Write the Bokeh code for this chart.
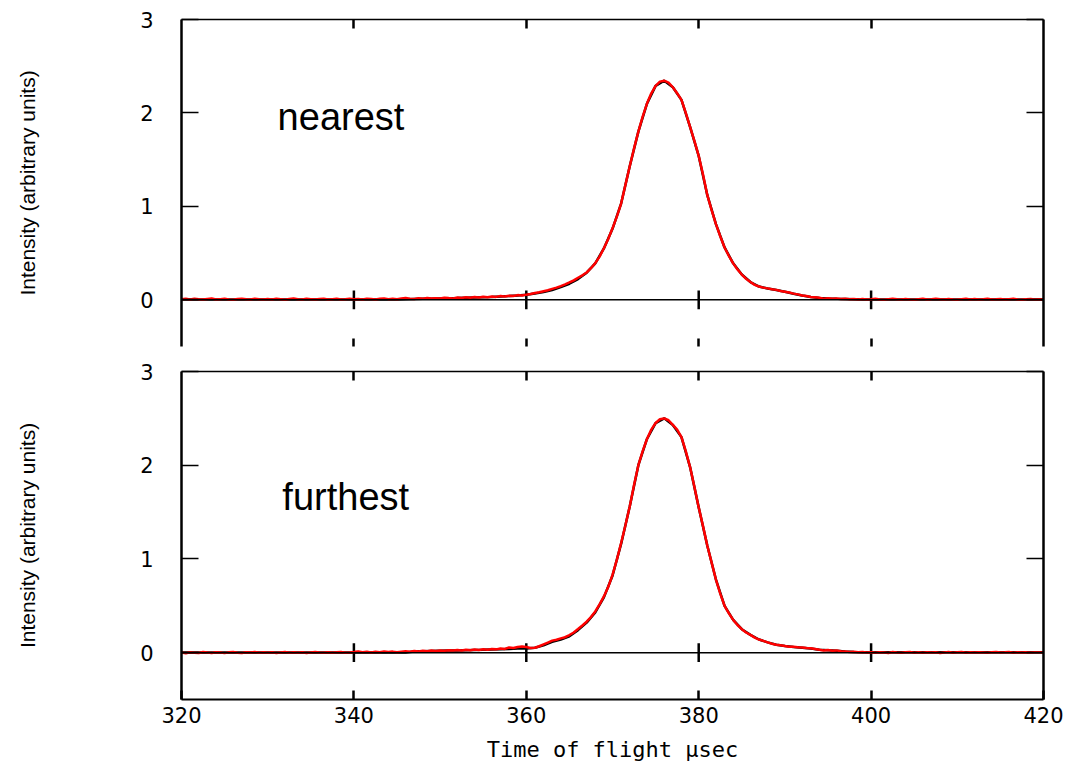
import numpy as np
from bokeh.plotting import figure
from bokeh.layouts import column
from bokeh.models import LinearAxis, FixedTicker, Span, Label, Range1d
from bokeh.embed import file_html
from bokeh.resources import INLINE

# ---------------- data ----------------
t_start = 320.0
t_data_step = 0.5   # sampling of measured spectra (usec)
t_fit_step = 1.0    # sampling of fitted curves (usec)

x_ticks = [320, 340, 360, 380, 400, 420]
inner_x_ticks = [340, 360, 380, 400]
y_ticks = [0, 1, 2, 3]

panel_labels = ["nearest", "furthest"]

# fitted curve, nearest detector (1 usec steps, 320..420)
fit_nearest = [0.002] * 26 + [
    0.005, 0.008, 0.010, 0.012, 0.015, 0.017, 0.019, 0.022, 0.025, 0.028,
    0.031, 0.035, 0.040, 0.046, 0.053, 0.068, 0.082, 0.105, 0.135, 0.172,
    0.222, 0.290, 0.390, 0.550, 0.760, 1.030, 1.430, 1.800, 2.100, 2.290,
    2.345, 2.275, 2.140, 1.850, 1.540, 1.120, 0.810, 0.560, 0.390, 0.270,
    0.190, 0.142, 0.120, 0.104, 0.085, 0.065, 0.045, 0.030, 0.020, 0.014,
    0.010, 0.008, 0.006, 0.004] + [0.003] * 21

# measured, nearest detector (0.5 usec steps, 320..420)
data_nearest = [
    0.005, 0.010, 0.004, 0.012, 0.006, 0.002, 0.009, 0.013, 0.003, 0.007,
    0.011, 0.004, 0.000, 0.008, 0.012, 0.005, 0.002, 0.010, 0.006, 0.003,
    0.008, 0.004, 0.011, 0.006, 0.001, 0.009, 0.014, 0.005, 0.003, 0.010,
    0.006, 0.002, 0.008, 0.012, 0.004, 0.007, 0.010, 0.003, 0.006, 0.011,
    0.005, 0.009, 0.004, 0.012, 0.008, 0.003, 0.010, 0.015, 0.007, 0.011,
    0.006, 0.013, 0.018, 0.010, 0.008, 0.016, 0.012, 0.020, 0.014, 0.017,
    0.013, 0.022, 0.018, 0.015, 0.024, 0.020, 0.027, 0.022, 0.030, 0.025,
    0.033, 0.028, 0.036, 0.031, 0.040, 0.035, 0.044, 0.040, 0.050, 0.046,
    0.055, 0.062, 0.072, 0.080, 0.092, 0.102, 0.117, 0.130, 0.147, 0.165,
    0.186, 0.208, 0.236, 0.262, 0.292, 0.338, 0.392, 0.462, 0.552, 0.650,
    0.765, 0.890, 1.030, 1.230, 1.430, 1.620, 1.800, 1.960, 2.100, 2.210,
    2.290, 2.335, 2.345, 2.325, 2.275, 2.210, 2.140, 2.000, 1.850, 1.700,
    1.540, 1.340, 1.120, 0.960, 0.810, 0.680, 0.560, 0.470, 0.390, 0.325,
    0.270, 0.225, 0.190, 0.160, 0.142, 0.130, 0.122, 0.112, 0.106, 0.094,
    0.086, 0.078, 0.066, 0.058, 0.046, 0.040, 0.030, 0.026, 0.021, 0.012,
    0.016, 0.010, 0.013, 0.008, 0.011, 0.006, 0.009, 0.004, 0.008, 0.003,
    0.006, 0.010, 0.004, 0.001, 0.007, 0.011, 0.005, 0.002, 0.009, 0.004,
    0.000, 0.006, 0.010, 0.003, 0.007, 0.012, 0.005, 0.002, 0.008, 0.004,
    0.001, 0.007, 0.011, 0.004, 0.009, 0.003, 0.006, 0.010, 0.002, 0.005,
    0.009, 0.003, 0.007, 0.011, 0.004, 0.001, 0.006, 0.009, 0.003, 0.005,
    0.004]

# fitted curve, furthest detector (1 usec steps, 320..420)
fit_furthest = [0.002] * 27 + [
    0.012, 0.015, 0.018, 0.020, 0.022, 0.024, 0.026, 0.028, 0.030, 0.033,
    0.036, 0.040, 0.043, 0.045, 0.052, 0.078, 0.115, 0.140, 0.175, 0.240,
    0.320, 0.430, 0.590, 0.820, 1.160, 1.560, 2.000, 2.280, 2.450, 2.500,
    2.430, 2.300, 1.980, 1.550, 1.140, 0.780, 0.500, 0.350, 0.250, 0.190,
    0.140, 0.110, 0.085, 0.070, 0.060, 0.052, 0.043, 0.032, 0.025, 0.019,
    0.013, 0.008, 0.005] + [0.003] * 21

# measured, furthest detector (0.5 usec steps, 320..420)
data_furthest = [
    0.002, -0.006, 0.004, 0.000, -0.004, 0.006, 0.001, -0.003, 0.005, 0.002,
    -0.005, 0.003, 0.007, 0.000, -0.004, 0.004, 0.001, 0.006, -0.002, 0.003,
    0.000, 0.005, -0.003, 0.002, 0.006, -0.002, 0.003, 0.000, 0.005, -0.004,
    0.002, 0.006, 0.001, -0.002, 0.004, 0.000, 0.003, 0.007, -0.001, 0.002,
    0.006, 0.012, 0.004, 0.009, 0.002, 0.010, 0.005, 0.013, 0.008, 0.011,
    0.004, 0.009, 0.014, 0.010, 0.018, 0.013, 0.020, 0.016, 0.022, 0.018,
    0.024, 0.020, 0.026, 0.022, 0.028, 0.024, 0.030, 0.026, 0.033, 0.029,
    0.035, 0.031, 0.038, 0.035, 0.044, 0.040, 0.055, 0.050, 0.060, 0.065,
    0.060, 0.050, 0.052, 0.068, 0.088, 0.108, 0.128, 0.138, 0.152, 0.165,
    0.188, 0.215, 0.252, 0.290, 0.330, 0.380, 0.440, 0.515, 0.600, 0.700,
    0.830, 0.990, 1.170, 1.360, 1.560, 1.790, 2.000, 2.150, 2.280, 2.380,
    2.450, 2.490, 2.500, 2.480, 2.430, 2.380, 2.300, 2.150, 1.980, 1.770,
    1.550, 1.350, 1.140, 0.960, 0.780, 0.630, 0.500, 0.420, 0.350, 0.295,
    0.250, 0.215, 0.190, 0.160, 0.140, 0.125, 0.110, 0.095, 0.085, 0.078,
    0.072, 0.064, 0.062, 0.058, 0.055, 0.050, 0.046, 0.038, 0.030, 0.022,
    0.028, 0.020, 0.024, 0.015, 0.012, 0.006, 0.009, 0.003, 0.007, 0.002,
    0.004, -0.002, 0.005, 0.001, -0.003, 0.006, 0.002, -0.001, 0.004, 0.007,
    0.000, 0.003, -0.002, 0.005, 0.001, 0.004, -0.003, 0.002, 0.006, 0.000,
    0.003, 0.006, -0.001, 0.004, 0.001, 0.005, 0.002, -0.002, 0.004, 0.007,
    0.001, 0.003, 0.006, 0.000, 0.004, 0.002, 0.005, 0.001, 0.003, 0.004,
    0.002]

t_data = t_start + t_data_step * np.arange(len(data_nearest))
t_fit = t_start + t_fit_step * np.arange(len(fit_nearest))

TICK_FONT = "DejaVu Sans"


def hidden_labels(ticks):
    return {t: "" for t in ticks}


def make_panel(fit, data, label, label_pos, frame_w, frame_h, borders, bottom_labels):
    left, right, top, bottom = borders
    p = figure(frame_width=frame_w, frame_height=frame_h,
               x_range=Range1d(320, 420), y_range=Range1d(-0.5, 3),
               x_axis_location=None, y_axis_location=None,
               toolbar_location=None, output_backend="svg",
               min_border_left=left, min_border_right=right,
               min_border_top=top, min_border_bottom=bottom)
    p.grid.visible = False
    p.outline_line_color = None
    p.background_fill_color = "white"
    p.border_fill_color = "white"

    # left axis
    ya = LinearAxis(ticker=FixedTicker(ticks=y_ticks, minor_ticks=[]),
                    axis_label="Intensity (arbitrary units)")
    ya.major_tick_in = 17
    ya.major_tick_out = 0
    ya.major_tick_line_width = 1.5
    ya.axis_line_width = 2.5
    ya.major_label_text_font = TICK_FONT
    ya.major_label_text_font_size = "21px"
    ya.major_label_text_color = "black"
    ya.major_label_standoff = 28
    ya.axis_label_text_font = "Liberation Sans"
    ya.axis_label_text_font_style = "normal"
    ya.axis_label_text_font_size = "21px"
    ya.axis_label_text_color = "black"
    ya.axis_label_standoff = 98
    p.add_layout(ya, "left")

    # right axis
    yr = LinearAxis(ticker=FixedTicker(ticks=y_ticks, minor_ticks=[]))
    yr.major_tick_in = 17
    yr.major_tick_out = 0
    yr.major_tick_line_width = 1.5
    yr.axis_line_width = 2.5
    yr.major_label_overrides = hidden_labels(y_ticks)
    yr.major_label_text_font_size = "1px"
    yr.major_label_standoff = 0
    p.add_layout(yr, "right")

    # top axis
    xt = LinearAxis(ticker=FixedTicker(ticks=inner_x_ticks, minor_ticks=[]))
    xt.major_tick_in = 9
    xt.major_tick_out = 0
    xt.major_tick_line_width = 2.5
    xt.axis_line_width = 1.5
    xt.major_label_overrides = hidden_labels(inner_x_ticks)
    xt.major_label_text_font_size = "1px"
    xt.major_label_standoff = 0
    p.add_layout(xt, "above")

    # bottom axis
    if bottom_labels:
        xb = LinearAxis(ticker=FixedTicker(ticks=x_ticks, minor_ticks=[]),
                        axis_label="Time of flight μsec")
        xb.major_tick_in = 9
        xb.major_tick_out = 0
        xb.major_tick_line_width = 2.5
        xb.axis_line_width = 2
        xb.major_label_text_font = TICK_FONT
        xb.major_label_text_font_size = "21px"
        xb.major_label_text_color = "black"
        xb.major_label_standoff = 7
        xb.axis_label_text_font = "DejaVu Sans Mono"
        xb.axis_label_text_font_style = "normal"
        xb.axis_label_text_font_size = "22px"
        xb.axis_label_text_color = "black"
        xb.axis_label_standoff = 11
    else:
        xb = LinearAxis(ticker=FixedTicker(ticks=inner_x_ticks, minor_ticks=[]))
        xb.major_tick_in = 8
        xb.major_tick_out = 0
        xb.major_tick_line_width = 2.5
        xb.axis_line_color = None
        xb.major_label_overrides = hidden_labels(inner_x_ticks)
        xb.major_label_text_font_size = "1px"
        xb.major_label_standoff = 0
    p.add_layout(xb, "below")

    # zero line with crossing ticks
    p.add_layout(Span(location=0, dimension="width", line_color="black", line_width=1.5))
    p.segment(x0=inner_x_ticks, y0=[-0.1] * len(inner_x_ticks),
              x1=inner_x_ticks, y1=[0.1] * len(inner_x_ticks),
              line_color="black", line_width=2.5)

    # curves: fit (black) under measured data (red)
    p.line(t_fit, fit, line_color="black", line_width=2.5)
    p.line(t_data, data, line_color="#ff0000", line_width=2.5)

    p.add_layout(Label(x=label_pos[0], y=label_pos[1], text=label,
                       x_units="data", y_units="data",
                       text_font="Liberation Sans", text_font_size="38px",
                       text_baseline="alphabetic", text_align="left",
                       text_color="black"))
    return p


p1 = make_panel(fit_nearest, data_nearest, panel_labels[0], (331.15, 1.96),
                862, 327, (181, 40, 19, 10), False)
p2 = make_panel(fit_furthest, data_furthest, panel_labels[1], (331.7, 1.66),
                862, 328, (181, 40, 15, 66), True)

layout = column(p1, p2, spacing=0)
open("out.html", "w").write(file_html(layout, INLINE))
